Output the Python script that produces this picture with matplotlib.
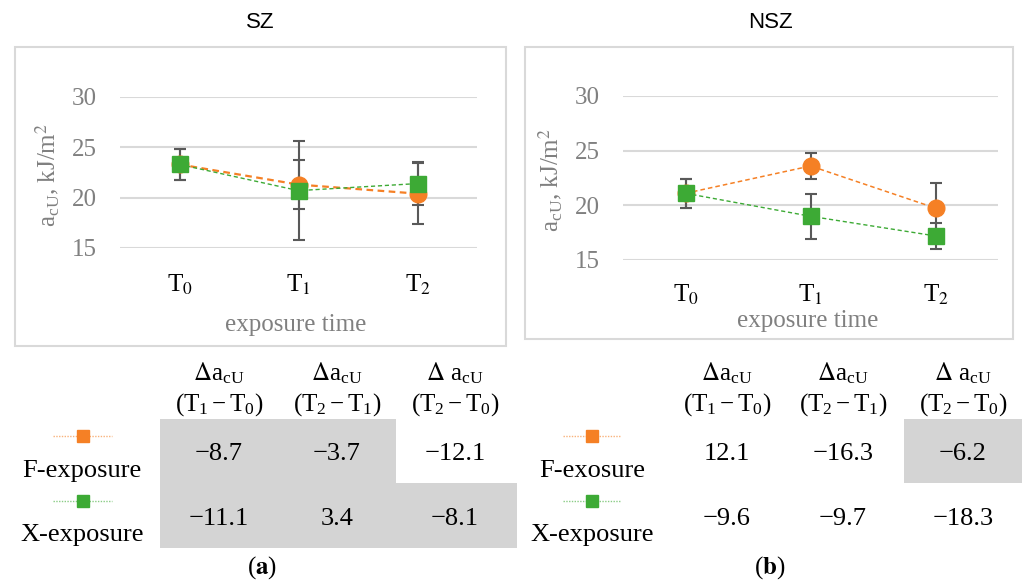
import matplotlib.pyplot as plt
from matplotlib.patches import Rectangle
from matplotlib.lines import Line2D

plt.rcParams['font.family'] = ['Liberation Serif', 'DejaVu Serif']
plt.rcParams['mathtext.fontset'] = 'stix'

W, H = 1022, 584

# data
times = ['T$_0$', 'T$_1$', 'T$_2$']
yticks = [15, 20, 25, 30]

sz_f = [23.3, 21.3, 20.4]
sz_f_err = [1.5, 2.4, 3.0]
sz_x = [23.3, 20.7, 21.4]
sz_x_err = [1.5, 4.9, 2.1]

nsz_f = [21.1, 23.6, 19.75]
nsz_f_err = [1.35, 1.2, 2.3]
nsz_x = [21.1, 19.0, 17.2]
nsz_x_err = [1.35, 2.05, 1.2]

col_heads = [r'$\Delta\mathregular{a_{cU}}$', r'$\Delta\mathregular{a_{cU}}$', r'$\Delta\ \mathregular{a_{cU}}$']
col_spans = [r'$\mathregular{(T_1 - T_0)}$', r'$\mathregular{(T_2 - T_1)}$', r'$\mathregular{(T_2 - T_0)}$']
sz_rows = [['\u22128.7', '\u22123.7', '\u221212.1'],
           ['\u221211.1', '3.4', '\u22128.1']]
nsz_rows = [['12.1', '\u221216.3', '\u22126.2'],
            ['\u22129.6', '\u22129.7', '\u221218.3']]
sz_shade = [[1, 1, 0], [1, 1, 1]]
nsz_shade = [[0, 0, 1], [0, 0, 0]]
sz_names = ['F-exposure', 'X-exposure']
nsz_names = ['F-exosure', 'X-exposure']

ORANGE = '#F58025'
GREEN = '#3DAA35'
GRID = '#d9d9d9'
GRAY_TXT = '#808080'


def fx(x):
    return x / W


def fy(y):
    return 1 - y / H


fig = plt.figure(figsize=(W / 100, H / 100), dpi=100)


def panel(box, plot, f, fe, xs, xe, title, title_x, ylab_x, xlab_y, f_lw, xpad):
    # outer box
    x0, y0, x1, y1 = box
    fig.add_artist(Rectangle((fx(x0), fy(y1)), fx(x1 - x0), (y1 - y0) / H,
                             transform=fig.transFigure, fill=False,
                             edgecolor=GRID, lw=1.5))
    px0, py0, px1, py1 = plot
    ax = fig.add_axes([fx(px0), fy(py1), fx(px1 - px0), (py1 - py0) / H])
    pos = range(len(times))
    ax.errorbar(pos, f, yerr=fe, fmt='none', ecolor='#595959', elinewidth=1.5,
                capsize=4, capthick=1.5, zorder=2)
    ax.errorbar(pos, xs, yerr=xe, fmt='none', ecolor='#595959', elinewidth=1.5,
                capsize=4, capthick=1.5, zorder=2)
    ax.plot(pos, f, color=ORANGE, ls=(0, (3, 2)), lw=f_lw, marker='o',
            ms=12, mec=ORANGE, zorder=3, clip_on=False)
    ax.plot(pos, xs, color=GREEN, ls=(0, (3, 2)), lw=1.0, marker='s',
            ms=12, mec=GREEN, zorder=4, clip_on=False)
    ax.set_xlim(-0.5, 2.5)
    ax.set_ylim(15, 30)
    ax.set_yticks(yticks)
    ax.set_xticks(list(pos))
    ax.set_xticklabels(times, fontsize=18, color='black')
    ax.tick_params(axis='y', length=0, pad=17, labelsize=18, labelcolor=GRAY_TXT)
    ax.tick_params(axis='x', length=0, pad=xpad)
    ax.grid(axis='y', color=GRID, lw=1.5)
    ax.set_axisbelow(True)
    for s in ax.spines.values():
        s.set_visible(False)
    fig.text(fx(title_x), fy(23), title, ha='center', va='center',
             fontsize=16, family='Liberation Sans')
    fig.text(fx(ylab_x), fy((py0 + py1) / 2 + 2),
             r'$\mathregular{a_{cU}}$, kJ/m$^2$', rotation=90, ha='center',
             va='center', fontsize=18, color=GRAY_TXT)
    fig.text(fx((px0 + px1) / 2 - 3), fy(xlab_y), 'exposure time', ha='center',
             va='center', fontsize=18, color=GRAY_TXT)
    return ax


panel((15, 47, 506, 346), (120, 97, 477, 248), sz_f, sz_f_err, sz_x, sz_x_err,
      'SZ', 260, 48, 325, 1.6, 18)
panel((525, 47, 1013, 339), (623, 96, 998, 260), nsz_f, nsz_f_err, nsz_x, nsz_x_err,
      'NSZ', 770, 551, 321, 1.1, 16)


def table(col_edges, centers, rows, shade, names, name_x, mark_x0, mark_x1, tag, tag_x):
    row_edges = [419, 483, 548]
    for r in range(2):
        for c in range(3):
            if shade[r][c]:
                x0, x1 = col_edges[c], col_edges[c + 1]
                fig.add_artist(Rectangle((fx(x0), fy(row_edges[r + 1])), fx(x1 - x0),
                                         (row_edges[r + 1] - row_edges[r]) / H,
                                         transform=fig.transFigure, color='#d4d4d4',
                                         lw=0, zorder=0))
            fig.text(fx(centers[c]), fy([454, 519][r]), rows[r][c], ha='center',
                     va='center', fontsize=19)
    for c in range(3):
        fig.text(fx(centers[c]), fy(373), col_heads[c], ha='center', va='center', fontsize=18)
        fig.text(fx(centers[c]), fy(405), col_spans[c], ha='center', va='center', fontsize=18)
    for i, (col, ly, ty) in enumerate([(ORANGE, 436, 471), (GREEN, 501, 535)]):
        fig.add_artist(Line2D([fx(mark_x0), fx(mark_x1)], [fy(ly), fy(ly)],
                              transform=fig.transFigure, color=col, alpha=0.6,
                              ls=(0, (1, 1)), lw=1.0))
        fig.add_artist(Line2D([fx((mark_x0 + mark_x1) / 2)], [fy(ly)],
                              transform=fig.transFigure, color=col, marker='s',
                              ms=8, lw=0))
        fig.text(fx(name_x), fy(ty), names[i], ha='center', va='center', fontsize=19)
    fig.text(fx(tag_x), fy(568), '($\\mathbf{%s}$)' % tag, ha='center', va='center',
             fontsize=18)


table([160, 278, 396, 517], [219, 337, 455], sz_rows, sz_shade, sz_names, 82, 53, 112,
      'a', 262)
table([669, 785, 904, 1022], [727, 843, 963], nsz_rows, nsz_shade, nsz_names, 592, 563, 620,
      'b', 770)

fig.savefig('out.png', dpi=100)
